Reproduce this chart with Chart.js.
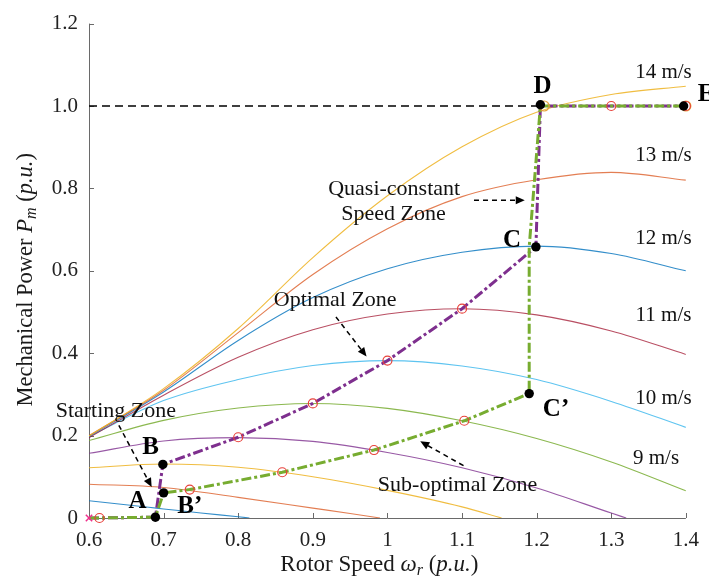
<!DOCTYPE html>
<html><head><meta charset="utf-8">
<script src="https://cdn.jsdelivr.net/npm/chart.js@4.4.0/dist/chart.umd.min.js"></script>
<style>html,body{margin:0;padding:0;background:#fff;}canvas{display:block;}</style>
</head><body>
<canvas id="c" width="709" height="579"></canvas>
<script>
// ---------- data ----------
const speedGrid = [0.6, 0.7, 0.8, 0.9, 1.0, 1.1, 1.2, 1.3, 1.4];
const p14 = [0.199, 0.314, 0.460, 0.632, 0.782, 0.901, 0.985, 1.028, 1.048];
const p13 = [0.200, 0.310, 0.450, 0.591, 0.702, 0.780, 0.821, 0.839, 0.820];
const p12 = [0.198, 0.306, 0.431, 0.535, 0.605, 0.645, 0.660, 0.642, 0.600];
const p11 = [0.195, 0.298, 0.390, 0.457, 0.495, 0.508, 0.493, 0.454, 0.397];
const p10 = [0.198, 0.285, 0.336, 0.370, 0.382, 0.369, 0.336, 0.283, 0.220];
const p9  = [0.188, 0.237, 0.267, 0.278, 0.266, 0.236, 0.193, 0.136, 0.066];
const w8 = [0.6, 0.7, 0.8, 0.9, 1.0, 1.1, 1.2, 1.3, 1.32];
const p8 = [0.157, 0.187, 0.195, 0.186, 0.159, 0.122, 0.073, 0.012, 0];
const w7 = [0.6, 0.7, 0.8, 0.9, 1.0, 1.1, 1.153];
const p7 = [0.122, 0.131, 0.123, 0.100, 0.067, 0.027, 0];
const w6 = [0.6, 0.7, 0.8, 0.9, 0.95, 0.99];
const p6 = [0.082, 0.074, 0.050, 0.024, 0.011, 0];
const w5 = [0.6, 0.68, 0.7, 0.75, 0.8, 0.815];
const p5 = [0.042, 0.026, 0.022, 0.012, 0.003, 0];

// control trajectories
const optW = [0.6, 0.614, 0.689, 0.699, 0.8, 0.9, 1.0, 1.1, 1.199, 1.205, 1.3, 1.4];
const optP = [0, 0, 0.002, 0.130, 0.196, 0.278, 0.382, 0.508, 0.658, 1.0, 1.0, 1.0];
const subW = [0.6, 0.614, 0.689, 0.700, 0.735, 0.859, 0.982, 1.103, 1.190, 1.190, 1.205, 1.3, 1.4];
const subP = [0, 0, 0.002, 0.061, 0.069, 0.111, 0.165, 0.236, 0.302, 0.658, 1.0, 1.0, 1.0];
const ratedW = [0.6, 1.205];
const ratedP = [1.0, 1.0];

// markers
const redCircW = [0.614, 0.8, 0.9, 1.0, 1.1, 1.3, 1.4, 0.735, 0.859, 0.982, 1.103];
const redCircP = [0, 0.196, 0.278, 0.382, 0.508, 1.0, 1.0, 0.069, 0.111, 0.165, 0.236];
const orangeCircW = [1.21, 1.4];
const orangeCircP = [1.0, 1.0];
const startW = [0.6];
const startP = [0];
const keyW = [0.689, 0.699, 0.700, 1.199, 1.190, 1.205, 1.397];
const keyP = [0.002, 0.130, 0.061, 0.658, 0.302, 1.003, 1.0];
const keyNames = ['A', 'B', 'B\u2019', 'C', 'C\u2019', 'D', 'E'];

const windLabels = ['14 m/s', '13 m/s', '12 m/s', '11 m/s', '10 m/s', '9 m/s'];
const xTickValues = [0.6, 0.7, 0.8, 0.9, 1.0, 1.1, 1.2, 1.3, 1.4];
const xTickLabels = ['0.6', '0.7', '0.8', '0.9', '1', '1.1', '1.2', '1.3', '1.4'];
const yTickValues = [0, 0.2, 0.4, 0.6, 0.8, 1.0, 1.2];
const yTickLabels = ['0', '0.2', '0.4', '0.6', '0.8', '1.0', '1.2'];

// ---------- helpers ----------
const zip = (xs, ys) => xs.map((v, i) => ({x: v, y: ys[i]}));
const SERIF = '"Liberation Serif", "Times New Roman", serif';

const curveDefs = [
  [speedGrid, p14, 'rgba(237,177,32,0.85)'],
  [speedGrid, p13, 'rgba(217,83,25,0.75)'],
  [speedGrid, p12, 'rgba(0,114,189,0.8)'],
  [speedGrid, p11, 'rgba(162,20,47,0.75)'],
  [speedGrid, p10, 'rgba(77,190,238,0.9)'],
  [speedGrid, p9,  'rgba(119,172,48,0.85)'],
  [w8, p8, 'rgba(126,47,142,0.8)'],
  [w7, p7, 'rgba(237,177,32,0.85)'],
  [w6, p6, 'rgba(217,83,25,0.75)'],
  [w5, p5, 'rgba(0,114,189,0.8)']
];

const datasets = curveDefs.map(([xs, ys, col]) => ({
  data: zip(xs, ys), showLine: true, borderColor: col, borderWidth: 1.1,
  pointRadius: 0, cubicInterpolationMode: 'monotone', fill: false, order: 20
}));

datasets.push({
  data: zip(ratedW, ratedP), showLine: true, borderColor: '#000', borderWidth: 1.4,
  borderDash: [8, 5], pointRadius: 0, order: 15, clip: false
});
datasets.push({
  data: zip(optW, optP), showLine: true, borderColor: '#7E2F8E', borderWidth: 3,
  borderDash: [10, 3, 3, 3], pointRadius: 0, tension: 0, order: 8, clip: false
});
datasets.push({
  data: zip(subW, subP), showLine: true, borderColor: '#77AC30', borderWidth: 3,
  borderDash: [10, 3, 3, 3], pointRadius: 0, tension: 0, order: 7, clip: false
});
datasets.push({
  data: zip(redCircW, redCircP), showLine: false, pointStyle: 'circle', pointRadius: 4.5,
  pointBorderColor: '#E8403A', pointBorderWidth: 1.2, pointBackgroundColor: 'rgba(0,0,0,0)', order: 4, clip: false
});
datasets.push({
  data: zip(orangeCircW, orangeCircP), showLine: false, pointStyle: 'circle', pointRadius: 5,
  pointBorderColor: '#E6A23C', pointBorderWidth: 1.2, pointBackgroundColor: 'rgba(0,0,0,0)', order: 5, clip: false
});
datasets.push({
  data: zip(startW, startP), showLine: false, pointStyle: 'crossRot', pointRadius: 4.5,
  pointBorderColor: '#F0308C', pointBorderWidth: 1.5, order: 4, clip: false
});
datasets.push({
  data: zip(keyW, keyP), showLine: false, pointStyle: 'circle', pointRadius: 4.7,
  pointBackgroundColor: '#000', pointBorderColor: '#000', pointBorderWidth: 0, order: 1, clip: false
});

// ---------- annotation layout (data coordinates) ----------
const windLabelPos = [[1.37, 1.068], [1.37, 0.866], [1.37, 0.664], [1.37, 0.479], [1.37, 0.277], [1.36, 0.131]];
const zoneTexts = [
  ['Quasi-constant', 1.009, 0.785],
  ['Speed Zone', 1.008, 0.724],
  ['Optimal Zone', 0.93, 0.515],
  ['Starting Zone', 0.636, 0.244],
  ['Sub-optimal Zone', 1.094, 0.066]
];
const arrows = [
  [1.116, 0.771, 1.184, 0.771],
  [0.931, 0.488, 0.972, 0.392],
  [0.640, 0.225, 0.684, 0.075],
  [1.102, 0.127, 1.044, 0.186]
];
const keyLabelPos = [[0.665, 0.025], [0.6825, 0.156], [0.735, 0.011], [1.167, 0.657], [1.226, 0.248], [1.208, 1.031], [1.416, 1.013]];

const overlay = {
  id: 'overlay',
  beforeDatasetsDraw(chart) {
    const {ctx, chartArea: a, scales: {x, y}} = chart;
    ctx.save();
    ctx.strokeStyle = '#6a6a6a';
    ctx.lineWidth = 1;
    ctx.beginPath();
    ctx.moveTo(a.left + 0.5, a.top);
    ctx.lineTo(a.left + 0.5, a.bottom + 0.5);
    ctx.lineTo(a.right, a.bottom + 0.5);
    xTickValues.forEach(v => {
      const px = Math.round(x.getPixelForValue(v)) + 0.5;
      ctx.moveTo(px, a.bottom); ctx.lineTo(px, a.bottom - 5);
    });
    yTickValues.forEach(v => {
      const py = Math.round(y.getPixelForValue(v)) + 0.5;
      ctx.moveTo(a.left, py); ctx.lineTo(a.left + 5, py);
    });
    ctx.stroke();
    ctx.restore();
  },
  afterDraw(chart) {
    const {ctx, chartArea: a, scales: {x, y}} = chart;
    const X = v => x.getPixelForValue(v), Y = v => y.getPixelForValue(v);
    ctx.save();
    ctx.fillStyle = '#111';
    ctx.textBaseline = 'alphabetic';
    ctx.textAlign = 'center';
    // wind speed labels
    ctx.font = '21px ' + SERIF;
    windLabels.forEach((t, i) => ctx.fillText(t, X(windLabelPos[i][0]), Y(windLabelPos[i][1])));
    // zone texts
    ctx.font = '22px ' + SERIF;
    zoneTexts.forEach(([t, u, v]) => ctx.fillText(t, X(u), Y(v)));
    // arrows
    arrows.forEach(([x0, y0, x1, y1]) => {
      const sx = X(x0), sy = Y(y0), ex = X(x1), ey = Y(y1);
      const ang = Math.atan2(ey - sy, ex - sx);
      const hl = 9, hw = 4;
      const bx = ex - hl * Math.cos(ang), by = ey - hl * Math.sin(ang);
      ctx.strokeStyle = '#000'; ctx.lineWidth = 1.5; ctx.setLineDash([5, 4]);
      ctx.beginPath(); ctx.moveTo(sx, sy); ctx.lineTo(bx, by); ctx.stroke();
      ctx.setLineDash([]);
      ctx.fillStyle = '#000';
      ctx.beginPath();
      ctx.moveTo(ex, ey);
      ctx.lineTo(bx + hw * Math.sin(ang), by - hw * Math.cos(ang));
      ctx.lineTo(bx - hw * Math.sin(ang), by + hw * Math.cos(ang));
      ctx.closePath(); ctx.fill();
    });
    // key point letters
    ctx.fillStyle = '#000';
    ctx.font = 'bold 25px ' + SERIF;
    keyNames.forEach((t, i) => {
      ctx.textAlign = (t === 'E') ? 'left' : 'center';
      ctx.fillText(t, X(keyLabelPos[i][0]), Y(keyLabelPos[i][1]));
    });
    // axis titles
    ctx.fillStyle = '#1a1a1a';
    const drawSegs = (segs, cx, cy) => {
      let total = 0;
      segs.forEach(s => { ctx.font = s[1]; s.w = ctx.measureText(s[0]).width; total += s.w; });
      let pos = cx - total / 2;
      ctx.textAlign = 'left';
      segs.forEach(s => { ctx.font = s[1]; ctx.fillText(s[0], pos, cy + (s[2] || 0)); pos += s.w; });
    };
    const xs = [
      ['Rotor Speed ', '23px ' + SERIF],
      ['\u03c9', 'italic 23px ' + SERIF],
      ['r', 'italic 16px ' + SERIF, 4],
      [' (', '23px ' + SERIF],
      ['p.u.', 'italic 23px ' + SERIF],
      [')', '23px ' + SERIF]
    ];
    drawSegs(xs, (a.left + a.right) / 2 - 8, a.bottom + 53);
    ctx.save();
    ctx.translate(32, (a.top + a.bottom) / 2 + 9);
    ctx.rotate(-Math.PI / 2);
    const ys = [
      ['Mechanical Power ', '22.5px ' + SERIF],
      ['P', 'italic 22.5px ' + SERIF],
      ['m', 'italic 16px ' + SERIF, 4],
      [' (', '22.5px ' + SERIF],
      ['p.u.', 'italic 22.5px ' + SERIF],
      [')', '22.5px ' + SERIF]
    ];
    drawSegs(ys, 0, 0);
    ctx.restore();
    ctx.restore();
  }
};

new Chart(document.getElementById('c'), {
  type: 'scatter',
  data: {datasets},
  options: {
    responsive: false,
    animation: false,
    devicePixelRatio: 1,
    layout: {padding: {left: 0, right: 21, top: 19, bottom: 0}},
    plugins: {legend: {display: false}, tooltip: {enabled: false}},
    scales: {
      x: {
        type: 'linear', min: 0.6, max: 1.4,
        afterBuildTicks: s => { s.ticks = xTickValues.map(v => ({value: v})); },
        afterFit: s => { s.height = 61; },
        grid: {display: false, drawTicks: false},
        border: {display: false},
        ticks: {
          callback: (v, i) => xTickLabels[i], padding: 10, maxRotation: 0, autoSkip: false,
          color: '#222', font: {family: SERIF, size: 21}
        }
      },
      y: {
        type: 'linear', min: 0, max: 1.2,
        afterBuildTicks: s => { s.ticks = yTickValues.map(v => ({value: v})); },
        afterFit: s => { s.width = 89; },
        grid: {display: false, drawTicks: false},
        border: {display: false},
        ticks: {
          callback: (v, i) => yTickLabels[i], padding: 11, autoSkip: false,
          color: '#222', font: {family: SERIF, size: 21}
        }
      }
    }
  },
  plugins: [overlay]
});
</script>
</body></html>
